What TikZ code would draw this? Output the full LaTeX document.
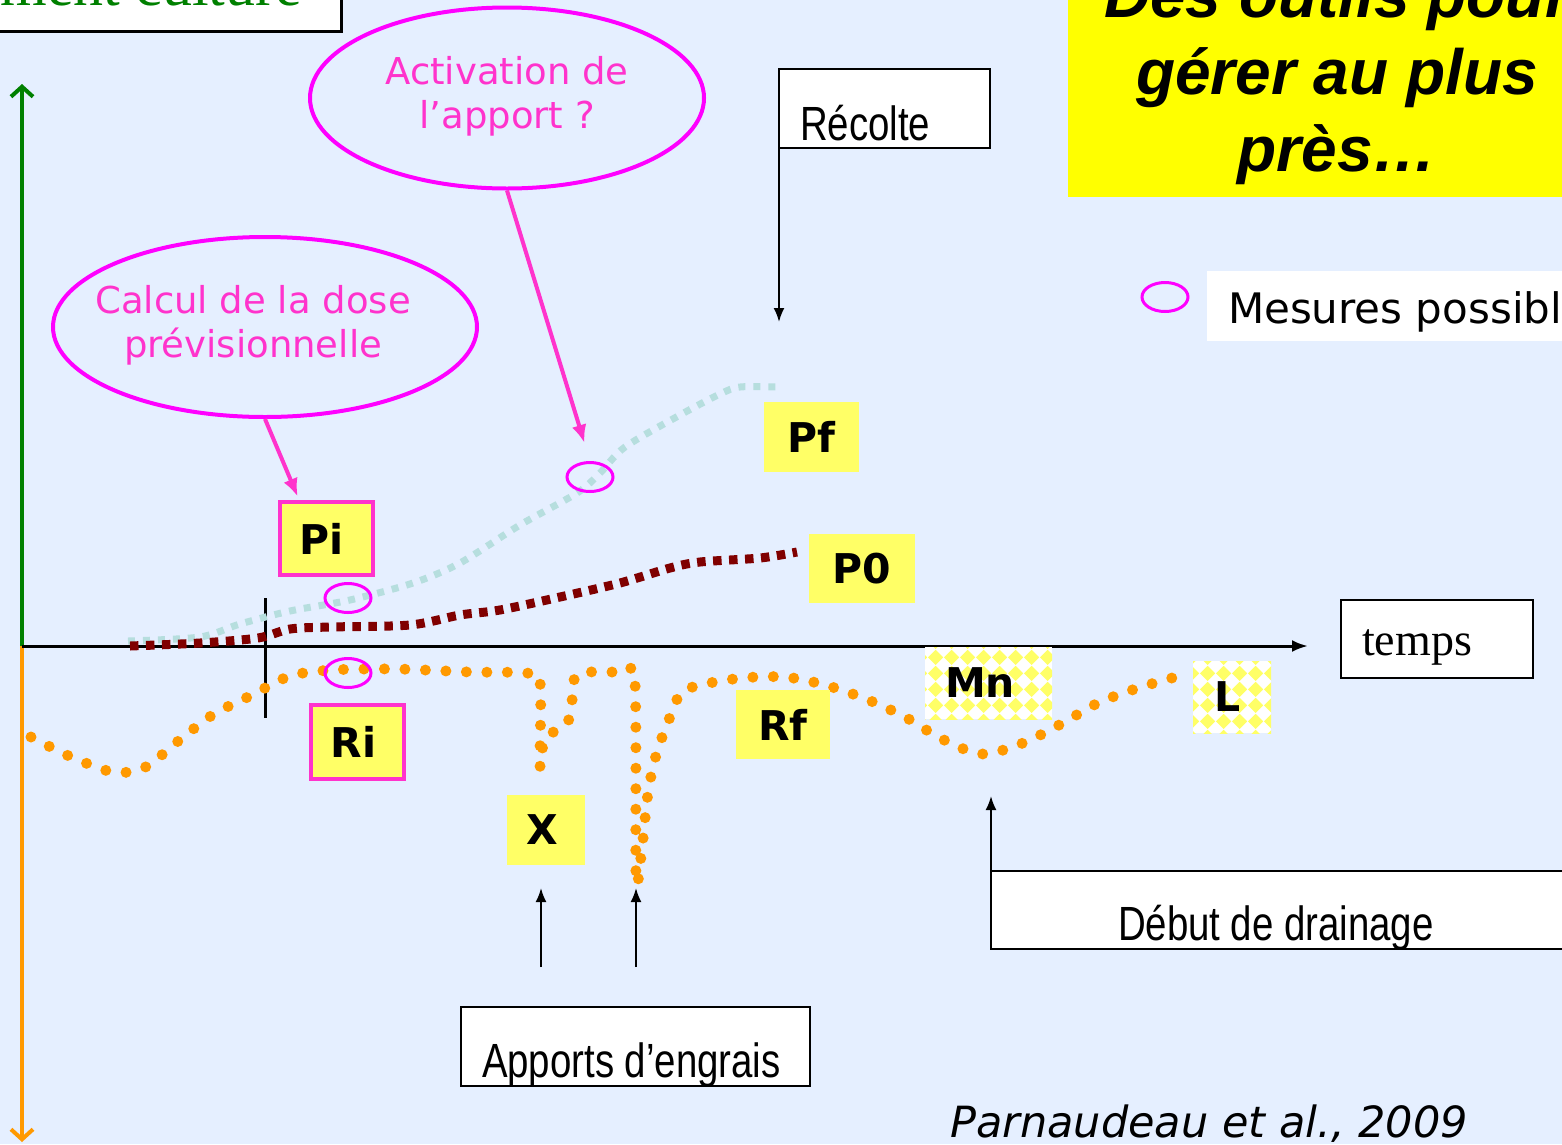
\documentclass[tikz,border=0pt]{standalone}
\usepackage{fontspec}
\setmainfont{Liberation Serif}
\newfontfamily\verdfont{DejaVu Sans}
\newfontfamily\arialfont{Liberation Sans}
\newfontfamily\narrowfont{Liberation Sans}[FakeStretch=0.8]
\newcommand\tagfont{\narrowfont\fontsize{48}{56}\selectfont\spaceskip=10.5pt\relax}
\usetikzlibrary{shapes.geometric, arrows.meta, patterns, positioning}
\tikzset{>=latex}
\definecolor{bgblue}{RGB}{229,239,255}
\definecolor{boxyellow}{RGB}{255,255,102}
\definecolor{titleyellow}{RGB}{255,255,0}
\definecolor{pinktext}{RGB}{255,51,204}
\definecolor{mesuremag}{RGB}{255,0,255}
\definecolor{curvecyan}{RGB}{182,222,222}
\definecolor{curvered}{RGB}{128,0,0}
\definecolor{curveorange}{RGB}{255,153,0}
\definecolor{axisgreen}{RGB}{0,128,0}
\pgfdeclarepatternformonly{diamonds}{\pgfpointorigin}{\pgfpoint{16pt}{16pt}}{\pgfpoint{16pt}{16pt}}{%
  \pgfpathmoveto{\pgfpoint{8pt}{0pt}}\pgfpathlineto{\pgfpoint{16pt}{8pt}}%
  \pgfpathlineto{\pgfpoint{8pt}{16pt}}\pgfpathlineto{\pgfpoint{0pt}{8pt}}%
  \pgfpathclose\pgfusepath{fill}}

\begin{document}
\begin{tikzpicture}[x=1pt, y=-1pt,
  lbl/.style={fill=boxyellow, inner sep=0pt, outer sep=0pt, font=\verdfont\bfseries\fontsize{41}{46}\selectfont},
  lblpink/.style={lbl, draw=pinktext, line width=4pt},
  lblcheck/.style={lbl, fill=white, postaction={pattern=diamonds, pattern color=boxyellow}},
  callout/.style={ellipse, draw=mesuremag, line width=4pt, inner sep=0pt, text=pinktext, font=\verdfont\fontsize{37}{44}\selectfont},
  mesure/.style={ellipse, draw=mesuremag, line width=3pt, inner sep=0pt, minimum width=46pt, minimum height=29pt},
  tagbox/.style={draw, line width=2.5pt, fill=white, inner ysep=0pt, outer sep=0pt, align=flush left, anchor=north west, font=\tagfont},
  pinkarrow/.style={draw=pinktext, line width=4pt, -{Latex[length=18pt,width=15pt]}},
  blackarrow/.style={line width=2pt, -{Latex[length=14pt,width=11pt]}},
  axisarrow/.style={line width=4pt, -{Straight Barb[length=10pt,width=22pt]}}]
\useasboundingbox (0,0) rectangle (1562,1144);
\clip (0,0) rectangle (1562,1144);
\fill[bgblue] (0,0) rectangle (1562,1144);

\node[tagbox, line width=3pt, anchor=south east, align=flush right, text=axisgreen, font=\fontsize{60}{66}\selectfont,
  text width=420pt, inner xsep=39pt, text height=60pt, text depth=26pt] (culture) at (341,31) {ment culture};
\fill[titleyellow] (1068,-50) rectangle (1600,197);
\node[inner sep=0pt, align=center, font=\arialfont\bfseries\itshape\fontsize{64}{77}\selectfont] (title) at (1337,78)
  {Des outils pour\\gérer au plus\\près…};

% axes
\coordinate (origin) at (22,646);
\draw[axisarrow, axisgreen] (origin) -- (22,84);
\draw[axisarrow, curveorange] (origin) -- (22,1142);
\draw[line width=3pt, -{Latex[length=16pt,width=12pt]}] (origin) -- (1308,646);
\draw[line width=3pt] (265,598) -- (265,718);

% courbes
\draw[curvecyan, line width=7pt, dash pattern=on 7pt off 8pt] plot[smooth] coordinates {(128,641) (200,637) (240,624)
  (290,611) (350,600) (413,583) (460,563) (520,525) (577,493) (600,473) (625,447) (680,415) (720,394) (740,387) (778,387)};
\draw[curvered, line width=9pt, dash pattern=on 8.5pt off 7.5pt] plot[smooth] coordinates {(130,646) (200,643) (258,638)
  (290,629) (330,627) (410,625) (460,615) (500,610) (560,597) (620,583) (670,568) (700,562) (760,558) (797,552)};
\draw[curveorange, line width=11pt, line cap=round, dash pattern=on 0pt off 20.5pt] plot[smooth, tension=0.5] coordinates {
  (31,737) (69,756) (108,771) (129,772) (149,765) (182,738) (214,714) (252,695) (290,676) (332,670) (396,669) (470,672)
  (526,673) (540,682) (540,766) (545,738) (566,725) (572,705) (572,687) (581,673) (623,673) (635,683) (636,876) (641,857)
  (648,793) (657,752) (672,712) (681,693) (700,685) (742,678) (785,677) (825,685) (866,699) (905,717) (942,739) (982,754)
  (1023,743) (1061,724) (1098,703) (1138,688) (1179,676)};

\node[lbl, minimum width=95pt, minimum height=70pt] (pf) at (811.5,437) {Pf};
\node[lblpink, minimum width=93pt, minimum height=73pt] (pi) at (326.5,538.5) {Pi\kern 10pt};
\node[lbl, minimum width=106pt, minimum height=69pt] (p0) at (862,568.5) {P0};
\node[lblpink, minimum width=93pt, minimum height=74pt] (ri) at (357.5,742) {Ri\kern 8pt};
\node[lbl, minimum width=94pt, minimum height=69pt] (rf) at (783,724.5) {Rf};
\node[lbl, minimum width=78pt, minimum height=70pt] (x) at (546,830) {X\kern 8pt};
\node[lblcheck, minimum width=127pt, minimum height=72pt] (mn) at (988.5,683) {Mn\kern 17pt};
\node[lblcheck, minimum width=78pt, minimum height=72pt] (l) at (1232,697) {L\kern 8pt};

\node[mesure] (mPi) at (348,598) {};
\node[mesure] (mRi) at (348,673) {};
\node[mesure] (mPf) at (590,477) {};
\node[mesure] (mleg) at (1165,297) {};
\node[tagbox, draw=none, font=\verdfont\fontsize{42}{48}\selectfont, text width=400pt, inner xsep=21pt,
  text height=52pt, text depth=18pt] (legend) at (1207,271) {Mesures possibl};

\node[callout, minimum width=394pt, minimum height=181pt] (activ) at (507,98)
  {\makebox[0pt]{\begin{tabular}{@{}c@{}}Activation de\\l’apport ?\end{tabular}}};
\node[callout, minimum width=424pt, minimum height=180pt] (calcul) at (265,327)
  {\makebox[0pt]{\begin{tabular}{@{}c@{}}Calcul de la dose\\prévisionnelle\end{tabular}\hspace{24pt}}};
\draw[pinkarrow, shorten >=19pt] (activ.south) -- (mPf.north);
\draw[pinkarrow, shorten >=6pt] (calcul.south) -- (pi.126);

\node[tagbox, text width=169pt, inner xsep=21pt, text height=71pt, text depth=8pt] (recolte) at (779,69) {Récolte};
\draw[blackarrow] (recolte.south west) -- ++(0,174);
\node[tagbox, font=\fontsize{46}{52}\selectfont, text width=150pt, inner xsep=21pt, text height=55pt, text depth=23pt] (temps) at (1341,600) {temps};
\node[tagbox, text width=366pt, inner xsep=127pt, text height=69pt, text depth=9pt] (drain) at (991,871) {Début de drainage};
\draw[blackarrow] (drain.north west) -- ++(0,-75);
\node[tagbox, text width=307pt, inner xsep=21pt, text height=70pt, text depth=9pt] (apports) at (461,1007) {Apports d’engrais};
\coordinate (apX) at (541,967);
\coordinate (apY) at (636,967);
\draw[blackarrow] (apX) -- ++(0,-79);
\draw[blackarrow] (apY) -- ++(0,-79);

\node[anchor=base west, inner sep=0pt, font=\verdfont\itshape\fontsize{43}{48}\selectfont] (source) at (950,1137) {Parnaudeau et al., 2009};
\end{tikzpicture}
\end{document}
